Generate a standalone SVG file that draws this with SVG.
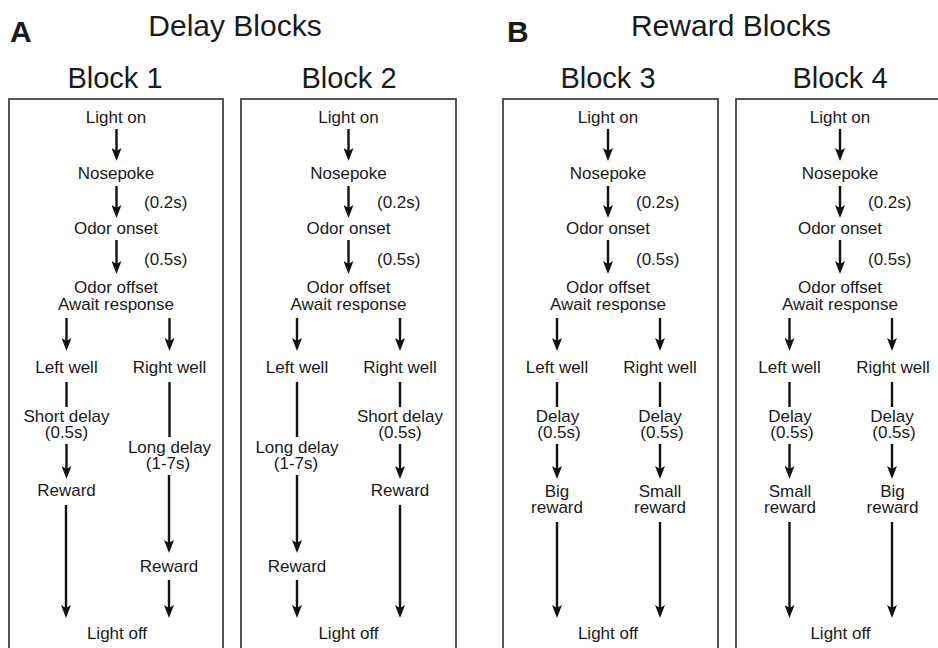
<svg xmlns="http://www.w3.org/2000/svg" width="938" height="648" viewBox="0 0 938 648">
<defs>
<marker id="ah" viewBox="0 0 13 10" refX="6" refY="5" markerWidth="13" markerHeight="10" markerUnits="userSpaceOnUse" orient="auto">
<path d="M0,0 L13,5 L0,10 L3,5 z" fill="#111"/>
</marker>
<style>
text{font-family:"Liberation Sans",Arial,Helvetica,sans-serif;fill:#1a1a1a;}
.t{font-size:17px;text-anchor:middle;}
.ts{font-size:17px;text-anchor:start;}
.h{font-size:30px;text-anchor:middle;}
.b{font-size:29px;text-anchor:middle;}
.L{font-size:30px;font-weight:bold;}
.box{fill:none;stroke:#444;stroke-width:1.8;}
.ln{stroke:#111;stroke-width:2.4;fill:none;}
.ar{stroke:#111;stroke-width:2.4;fill:none;marker-end:url(#ah);}
</style>
</defs>
<rect width="938" height="648" fill="#fff"/>

<g id="titles">
<text class="L" x="10" y="42">A</text>
<text class="h" x="235" y="36">Delay Blocks</text>
<text class="L" x="507" y="42">B</text>
<text class="h" x="731" y="36">Reward Blocks</text>
<text class="b" x="115" y="88">Block 1</text>
<text class="b" x="349" y="88">Block 2</text>
<text class="b" x="608" y="88">Block 3</text>
<text class="b" x="840" y="88">Block 4</text>
</g>

<g id="boxes">
<rect class="box" x="9" y="99" width="214" height="570"/>
<rect class="box" x="241" y="99" width="215" height="570"/>
<rect class="box" x="503" y="99" width="215" height="570"/>
<rect class="box" x="736" y="99" width="215" height="570"/>
</g>

<!-- Block 1 -->
<g id="b1-lighton"><text class="t" x="116" y="123">Light on</text></g>
<g id="b1-nosepoke"><text class="t" x="116" y="179">Nosepoke</text></g>
<g id="b1-odoronset"><text class="t" x="116" y="234">Odor onset</text></g>
<g id="b1-odoroffset"><text class="t" x="116" y="293">Odor offset</text><text class="t" x="116" y="310">Await response</text></g>
<g id="b1-leftwell"><text class="t" x="66.5" y="373">Left well</text></g>
<g id="b1-rightwell"><text class="t" x="169.5" y="373">Right well</text></g>
<g id="b1-shortdelay"><text class="t" x="66.5" y="422">Short delay</text><text class="t" x="66.5" y="438">(0.5s)</text></g>
<g id="b1-longdelay"><text class="t" x="169.5" y="453">Long delay</text><text class="t" x="168" y="469">(1-7s)</text></g>
<g id="b1-rewardL"><text class="t" x="66.5" y="496">Reward</text></g>
<g id="b1-rewardR"><text class="t" x="169" y="572">Reward</text></g>
<g id="b1-lightoff"><text class="t" x="117" y="639">Light off</text></g>

<!-- Block 2 -->
<g id="b2-lighton"><text class="t" x="348.5" y="123">Light on</text></g>
<g id="b2-nosepoke"><text class="t" x="348.5" y="179">Nosepoke</text></g>
<g id="b2-odoronset"><text class="t" x="348.5" y="234">Odor onset</text></g>
<g id="b2-odoroffset"><text class="t" x="348.5" y="293">Odor offset</text><text class="t" x="348.5" y="310">Await response</text></g>
<g id="b2-leftwell"><text class="t" x="297" y="373">Left well</text></g>
<g id="b2-rightwell"><text class="t" x="400" y="373">Right well</text></g>
<g id="b2-longdelay"><text class="t" x="297" y="453">Long delay</text><text class="t" x="296" y="469">(1-7s)</text></g>
<g id="b2-shortdelay"><text class="t" x="400" y="422">Short delay</text><text class="t" x="400" y="438">(0.5s)</text></g>
<g id="b2-rewardR"><text class="t" x="400" y="496">Reward</text></g>
<g id="b2-rewardL"><text class="t" x="297" y="572">Reward</text></g>
<g id="b2-lightoff"><text class="t" x="348.5" y="639">Light off</text></g>

<!-- Block 3 -->
<g id="b3-lighton"><text class="t" x="608" y="123">Light on</text></g>
<g id="b3-nosepoke"><text class="t" x="608" y="179">Nosepoke</text></g>
<g id="b3-odoronset"><text class="t" x="608" y="234">Odor onset</text></g>
<g id="b3-odoroffset"><text class="t" x="608" y="293">Odor offset</text><text class="t" x="608" y="310">Await response</text></g>
<g id="b3-leftwell"><text class="t" x="557" y="373">Left well</text></g>
<g id="b3-rightwell"><text class="t" x="660" y="373">Right well</text></g>
<g id="b3-delayL"><text class="t" x="557.5" y="422">Delay</text><text class="t" x="559" y="438">(0.5s)</text></g>
<g id="b3-delayR"><text class="t" x="660" y="422">Delay</text><text class="t" x="662" y="438">(0.5s)</text></g>
<g id="b3-bigreward"><text class="t" x="557" y="497">Big</text><text class="t" x="557" y="513">reward</text></g>
<g id="b3-smallreward"><text class="t" x="660" y="497">Small</text><text class="t" x="660" y="513">reward</text></g>
<g id="b3-lightoff"><text class="t" x="608" y="639">Light off</text></g>

<!-- Block 4 -->
<g id="b4-lighton"><text class="t" x="840" y="123">Light on</text></g>
<g id="b4-nosepoke"><text class="t" x="840" y="179">Nosepoke</text></g>
<g id="b4-odoronset"><text class="t" x="840" y="234">Odor onset</text></g>
<g id="b4-odoroffset"><text class="t" x="840" y="293">Odor offset</text><text class="t" x="840" y="310">Await response</text></g>
<g id="b4-leftwell"><text class="t" x="789.5" y="373">Left well</text></g>
<g id="b4-rightwell"><text class="t" x="893" y="373">Right well</text></g>
<g id="b4-delayL"><text class="t" x="790" y="422">Delay</text><text class="t" x="792" y="438">(0.5s)</text></g>
<g id="b4-delayR"><text class="t" x="892" y="422">Delay</text><text class="t" x="894" y="438">(0.5s)</text></g>
<g id="b4-smallreward"><text class="t" x="790" y="497">Small</text><text class="t" x="790" y="513">reward</text></g>
<g id="b4-bigreward"><text class="t" x="892.5" y="497">Big</text><text class="t" x="892.5" y="513">reward</text></g>
<g id="b4-lightoff"><text class="t" x="840.5" y="639">Light off</text></g>

<g id="connectors">
<!-- Block 1 -->
<path class="ar" d="M116.5,129 V154"/>
<path class="ar" d="M116.5,186 V211"/>
<path class="ar" d="M116.5,240 V267"/>
<text class="ts" x="144" y="208">(0.2s)</text>
<text class="ts" x="144" y="265">(0.5s)</text>
<path class="ar" d="M66.5,318 V344"/>
<path class="ar" d="M169.5,318 V344"/>
<path class="ln" d="M66.5,382 V407"/>
<path class="ar" d="M66.5,444 V472"/>
<path class="ar" d="M66,505 V611"/>
<path class="ln" d="M169.5,382 V437"/>
<path class="ar" d="M169,475 V546"/>
<path class="ar" d="M169,580 V611"/>
<!-- Block 2 -->
<path class="ar" d="M348.5,129 V154"/>
<path class="ar" d="M348.5,186 V211"/>
<path class="ar" d="M348.5,240 V267"/>
<text class="ts" x="377" y="208">(0.2s)</text>
<text class="ts" x="377" y="265">(0.5s)</text>
<path class="ar" d="M297,318 V344"/>
<path class="ar" d="M400,318 V344"/>
<path class="ln" d="M297,382 V437"/>
<path class="ar" d="M297,475 V546"/>
<path class="ar" d="M297,580 V611"/>
<path class="ln" d="M400,382 V407"/>
<path class="ar" d="M400,444 V472"/>
<path class="ar" d="M400,505 V611"/>
<!-- Block 3 -->
<path class="ar" d="M608,129 V154"/>
<path class="ar" d="M608,186 V211"/>
<path class="ar" d="M608,240 V267"/>
<text class="ts" x="636" y="208">(0.2s)</text>
<text class="ts" x="636" y="265">(0.5s)</text>
<path class="ar" d="M557,318 V344"/>
<path class="ar" d="M660,318 V344"/>
<path class="ln" d="M557,382 V407"/>
<path class="ln" d="M660,382 V407"/>
<path class="ar" d="M557,444 V472"/>
<path class="ar" d="M660,444 V472"/>
<path class="ar" d="M557,522 V611"/>
<path class="ar" d="M660,522 V611"/>
<!-- Block 4 -->
<path class="ar" d="M840,129 V154"/>
<path class="ar" d="M840,186 V211"/>
<path class="ar" d="M840,240 V267"/>
<text class="ts" x="868" y="208">(0.2s)</text>
<text class="ts" x="868" y="265">(0.5s)</text>
<path class="ar" d="M789.5,318 V344"/>
<path class="ar" d="M892,318 V344"/>
<path class="ln" d="M789.5,382 V407"/>
<path class="ln" d="M892,382 V407"/>
<path class="ar" d="M789.5,444 V472"/>
<path class="ar" d="M892,444 V472"/>
<path class="ar" d="M789.5,522 V611"/>
<path class="ar" d="M892,522 V611"/>
</g>
</svg>
